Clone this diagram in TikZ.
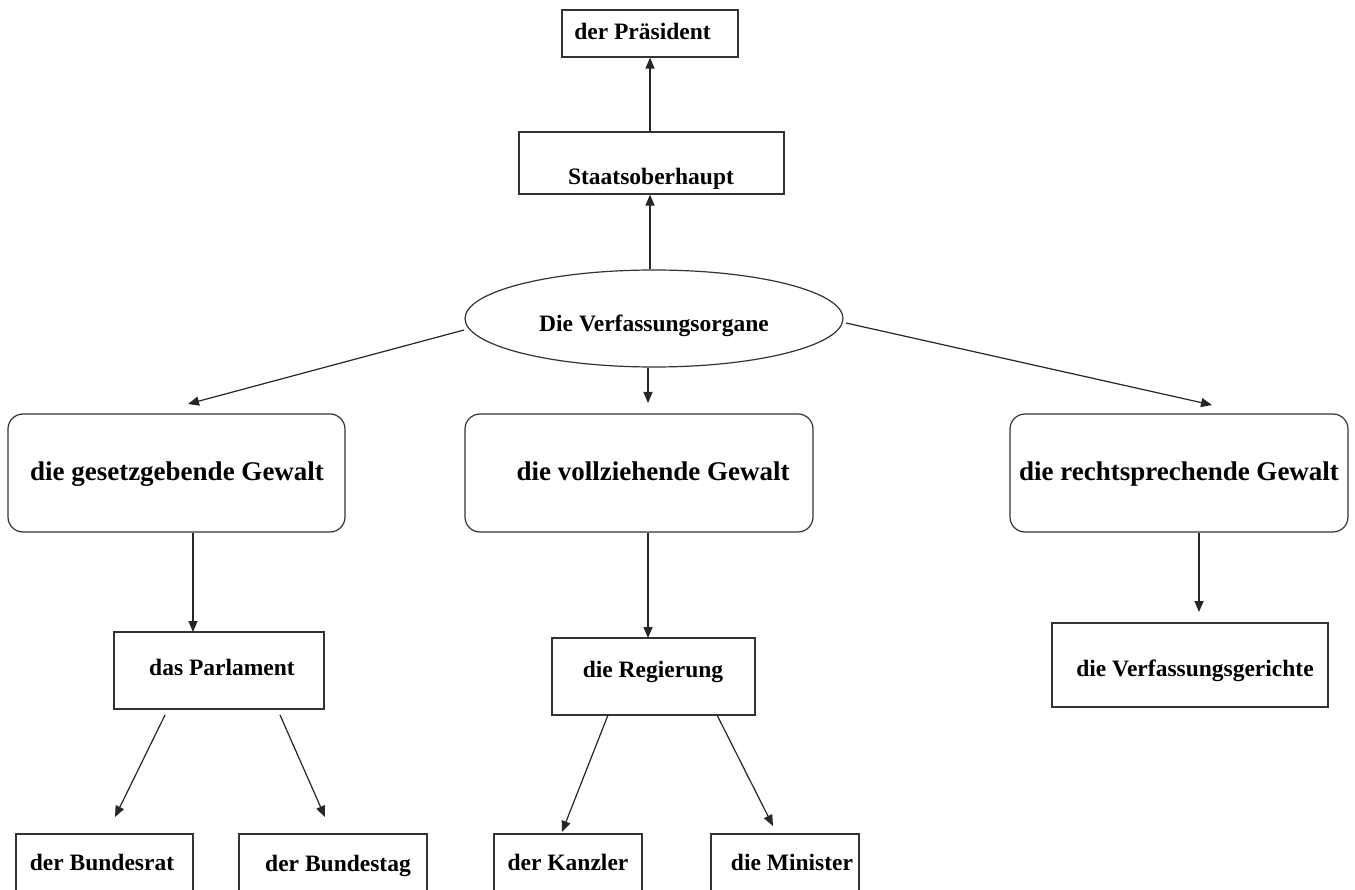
\documentclass[tikz,border=0pt]{standalone}
\usepackage{fontspec}
\setmainfont{Liberation Serif}
\usetikzlibrary{shapes.geometric,arrows.meta}
\tikzset{
  box/.style={draw=black!80, line width=1.2pt, rectangle, inner sep=0pt},
  rbox/.style={box, rounded corners=15pt},
  oval/.style={draw=black!80, line width=1.2pt, ellipse, inner sep=0pt},
  sm/.style={anchor=base, inner sep=0pt, font=\bfseries\fontsize{23.5}{26}\selectfont},
  big/.style={anchor=base, inner sep=0pt, font=\bfseries\fontsize{27}{30}\selectfont},
  arr/.style={-{Triangle[length=11pt,width=9pt]}, line width=1.2pt, draw=black!85}
}
\begin{document}
\begin{tikzpicture}[x=1pt,y=-1pt]
\clip (0,0) rectangle (1355,890);
\fill[white] (0,0) rectangle (1355,890);

% boxes
\node[box, minimum width=176pt, minimum height=47pt] (pres) at (650,33.5) {};
\node[box, minimum width=265pt, minimum height=62pt] (st) at (651.5,163) {};
\node[oval, minimum width=378pt, minimum height=97pt] (ell) at (654,318.5) {};
\node[rbox, minimum width=337pt, minimum height=118pt] (gg) at (176.5,473) {};
\node[rbox, minimum width=348pt, minimum height=118pt] (vz) at (639,473) {};
\node[rbox, minimum width=338pt, minimum height=118pt] (rs) at (1179,473) {};
\node[box, minimum width=210pt, minimum height=77pt] (parl) at (219,670.5) {};
\node[box, minimum width=203pt, minimum height=77pt] (reg) at (653.5,676.5) {};
\node[box, minimum width=276pt, minimum height=84pt] (vg) at (1190,665) {};
\node[box, minimum width=177pt, minimum height=80pt] (brat) at (104.5,874) {};
\node[box, minimum width=188pt, minimum height=80pt] (btag) at (333,874) {};
\node[box, minimum width=148pt, minimum height=80pt] (kanz) at (568,874) {};
\node[box, minimum width=148pt, minimum height=80pt] (min) at (785,874) {};

% texts
\node[sm] (tpres) at (642.5,40) {der Präsident};
\node[sm] (tst) at (651,185) {Staatsoberhaupt};
\node[sm] (tell) at (654,332) {Die Verfassungsorgane};
\node[big] (tgg) at (177,480) {die gesetzgebende Gewalt};
\node[big] (tvz) at (653,480) {die vollziehende Gewalt};
\node[big] (trs) at (1179,480) {die rechtsprechende Gewalt};
\node[sm] (tparl) at (222,675) {das Parlament};
\node[sm] (treg) at (653,677) {die Regierung};
\node[sm] (tvg) at (1195,676) {die Verfassungsgerichte};
\node[sm] (tbrat) at (102,870) {der Bundesrat};
\node[sm] (tbtag) at (338,871) {der Bundestag};
\node[sm] (tkanz) at (568,870) {der Kanzler};
\node[sm] (tmin) at (792,870) {die Minister};

% free ends / attachment points
\coordinate (a3) at (648,403);
\coordinate (a4s) at (464,330);
\coordinate (a4e) at (188,404);
\coordinate (a5s) at (846,323);
\coordinate (a5e) at (1212,405);
\coordinate (a6) at (193,632);
\coordinate (a7) at (648,638);
\coordinate (a8) at (1199,612);
\coordinate (p1s) at (165,715);
\coordinate (p1e) at (115,817);
\coordinate (p2s) at (280,715);
\coordinate (p2e) at (325,817);
\coordinate (r1s) at (608,715);
\coordinate (r1e) at (562,832);
\coordinate (r2s) at (717,715);
\coordinate (r2e) at (773,826);

% connectors
\draw[arr] (pres.south |- st.north) -- (pres.south);
\draw[arr] (pres.south |- ell.north) -- (pres.south |- st.south);
\draw[arr] (a3 |- ell.south) -- (a3);
\draw[arr] (a4s) -- (a4e);
\draw[arr] (a5s) -- (a5e);
\draw[arr] (a6 |- gg.south) -- (a6);
\draw[arr] (a7 |- vz.south) -- (a7);
\draw[arr] (a8 |- rs.south) -- (a8);
\draw[arr] (p1s) -- (p1e);
\draw[arr] (p2s) -- (p2e);
\draw[arr] (r1s) -- (r1e);
\draw[arr] (r2s) -- (r2e);
\end{tikzpicture}
\end{document}
